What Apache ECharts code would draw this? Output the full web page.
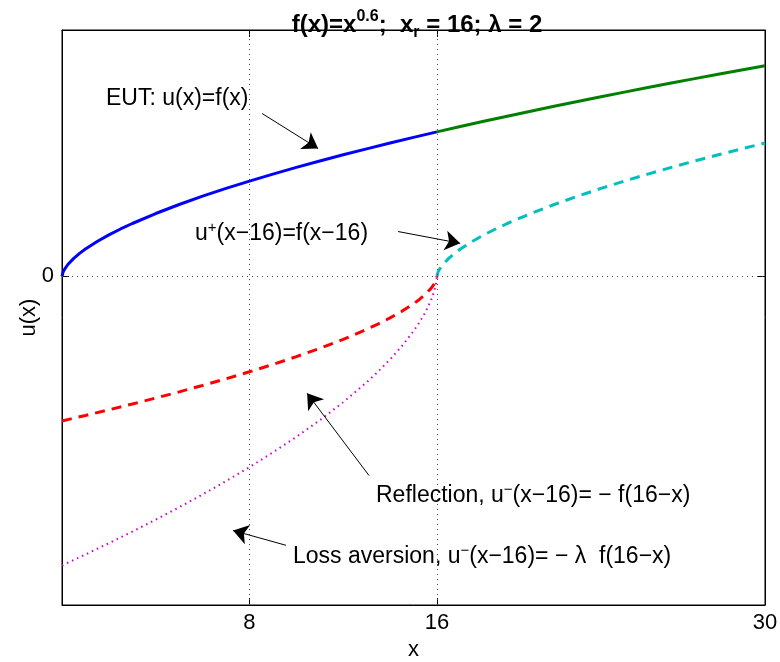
<!DOCTYPE html>
<html>
<head>
<meta charset="utf-8">
<script src="https://cdn.jsdelivr.net/npm/echarts@6/dist/echarts.min.js"></script>
<style>
  html, body { margin: 0; padding: 0; background: #fff; }
  #chart { width: 780px; height: 662px; }
</style>
</head>
<body>
<div id="chart"></div>
<script>
// f(x)=x^0.6, x_r = 16, lambda = 2
const eutLowX = [0, 0.05, 0.1, 0.25, 0.5, 0.75, 1, 1.5, 2, 2.5, 3, 4, 5, 6, 7, 8, 9, 10, 11, 12, 13, 14, 15, 16];
const eutLowY = [0, 0.1657, 0.2512, 0.4353, 0.6598, 0.8415, 1, 1.2754, 1.5157, 1.7329, 1.9332, 2.2974, 2.6265, 2.9302, 3.2141, 3.4822, 3.7372, 3.9811, 4.2154, 4.4413, 4.6598, 4.8714, 5.0775, 5.2780];

const eutHighX = [16, 17, 18, 19, 20, 21, 22, 23, 24, 25, 26, 27, 28, 29, 30];
const eutHighY = [5.2780, 5.4733, 5.6645, 5.8510, 6.0342, 6.2136, 6.3895, 6.5617, 6.7316, 6.8986, 7.0627, 7.2248, 7.3840, 7.5414, 7.6961];

const gainX = [16, 16.05, 16.1, 16.25, 16.5, 16.75, 17, 17.5, 18, 18.5, 19, 20, 21, 22, 23, 24, 25, 26, 27, 28, 29, 30];
const gainY = [0, 0.1657, 0.2512, 0.4353, 0.6598, 0.8415, 1, 1.2754, 1.5157, 1.7329, 1.9332, 2.2974, 2.6265, 2.9302, 3.2141, 3.4822, 3.7372, 3.9811, 4.2154, 4.4413, 4.6598, 4.8714];

const lossX = [0, 1, 2, 3, 4, 5, 6, 7, 8, 9, 10, 11, 12, 13, 13.5, 14, 14.5, 15, 15.25, 15.5, 15.75, 15.9, 15.95, 16];
const reflectionY = [-5.2780, -5.0775, -4.8714, -4.6598, -4.4413, -4.2154, -3.9811, -3.7372, -3.4822, -3.2141, -2.9302, -2.6265, -2.2974, -1.9332, -1.7329, -1.5157, -1.2754, -1, -0.8415, -0.6598, -0.4353, -0.2512, -0.1657, 0];
const lossAversionY = [-10.556, -10.155, -9.7428, -9.3196, -8.8826, -8.4308, -7.9622, -7.4744, -6.9644, -6.4282, -5.8604, -5.2530, -4.5948, -3.8664, -3.4658, -3.0314, -2.5508, -2, -1.6830, -1.3196, -0.8706, -0.5024, -0.3314, 0];

const xTicks = [8, 16, 30];
const yTicks = [0];

// annotation arrows: [from, to] in data coords
const arrows = [
  [[8.54, 5.95], [10.93, 4.67]],
  [[14.34, 1.64], [16.99, 1.21]],
  [[13.10, -7.27], [10.46, -4.27]],
  [[9.56, -9.82], [7.30, -9.28]]
];

const zip = (xs, ys) => xs.map((x, i) => [x, ys[i]]);

const font = 'Liberation Sans, Arial, Helvetica, sans-serif';
const txt = { fontFamily: font, fontSize: 23, lineHeight: 28, verticalAlign: 'middle', fill: '#000' };
const sup = { fontFamily: font, fontSize: 15, lineHeight: 14, verticalAlign: 'top', fill: '#000' };

function label(left, top, text) {
  return {
    type: 'text', left: left, top: top, silent: true,
    style: { text: text, rich: { a: txt, s: sup }, fontFamily: font, fontSize: 23 }
  };
}

const axisText = { fontFamily: font, fontSize: 22, color: '#000' };

const chart = echarts.init(document.getElementById('chart'), null, { renderer: 'canvas' });

chart.setOption({
  animation: false,
  backgroundColor: '#fff',
  title: {
    text: '{a|f(x)=x}{s|0.6}{a|;  x}{b|r}{a| = 16; λ = 2}',
    left: 412, top: 4, textAlign: 'center',
    textStyle: {
      rich: {
        a: { fontFamily: font, fontSize: 24, fontWeight: 'bold', lineHeight: 32, verticalAlign: 'middle', color: '#000' },
        s: { fontFamily: font, fontSize: 16, fontWeight: 'bold', lineHeight: 16, verticalAlign: 'top', color: '#000' },
        b: { fontFamily: font, fontSize: 16, fontWeight: 'bold', lineHeight: 12, verticalAlign: 'bottom', color: '#000' }
      }
    }
  },
  grid: {
    left: 62, right: 15, top: 30, bottom: 57, outerBoundsMode: 'none',
    show: true, borderColor: '#000', borderWidth: 1, backgroundColor: '#fff'
  },
  xAxis: [{
    type: 'value', min: 0, max: 30, position: 'bottom',
    name: 'x', nameLocation: 'middle', nameGap: 34, nameMoveOverlap: false,
    nameTextStyle: axisText,
    axisLine: { show: true, onZero: false, lineStyle: { color: '#000' } },
    axisTick: { show: true, inside: true, length: 7, customValues: xTicks, lineStyle: { color: '#000' } },
    axisLabel: Object.assign({ customValues: xTicks, margin: 7 }, axisText),
    splitLine: { show: false }
  }, {
    type: 'value', min: 0, max: 30, position: 'top',
    axisLine: { show: true, onZero: false, lineStyle: { color: '#000' } },
    axisTick: { show: true, inside: true, length: 7, customValues: xTicks, lineStyle: { color: '#000' } },
    axisLabel: { show: false },
    splitLine: { show: false }
  }],
  yAxis: [{
    type: 'value', min: -12, max: 9, position: 'left',
    name: 'u(x)', nameLocation: 'middle', nameGap: 22, nameMoveOverlap: false,
    nameTextStyle: axisText,
    axisLine: { show: true, onZero: false, lineStyle: { color: '#000' } },
    axisTick: { show: true, inside: true, length: 7, customValues: yTicks, lineStyle: { color: '#000' } },
    axisLabel: Object.assign({ customValues: yTicks, margin: 8 }, axisText),
    splitLine: { show: false }
  }, {
    type: 'value', min: -12, max: 9, position: 'right',
    axisLine: { show: true, onZero: false, lineStyle: { color: '#000' } },
    axisTick: { show: true, inside: true, length: 7, customValues: yTicks, lineStyle: { color: '#000' } },
    axisLabel: { show: false },
    splitLine: { show: false }
  }],
  series: [
    {
      // dotted grid lines
      type: 'line', data: [], silent: true,
      markLine: {
        silent: true, symbol: ['none', 'none'], label: { show: false },
        lineStyle: { color: '#444', width: 1, type: [1, 4] },
        data: xTicks.slice(0, 2).map(v => ({ xAxis: v })).concat(yTicks.map(v => ({ yAxis: v })))
      }
    },
    {
      name: 'EUT low', type: 'line', data: zip(eutLowX, eutLowY), showSymbol: false, smooth: false,
      lineStyle: { color: '#0000ff', width: 3 }
    },
    {
      name: 'EUT high', type: 'line', data: zip(eutHighX, eutHighY), showSymbol: false,
      lineStyle: { color: '#007f00', width: 3 }
    },
    {
      name: 'gain', type: 'line', data: zip(gainX, gainY), showSymbol: false,
      lineStyle: { color: '#00bfbf', width: 3, type: [10, 7] }
    },
    {
      name: 'reflection', type: 'line', data: zip(lossX, reflectionY), showSymbol: false,
      lineStyle: { color: '#ff0000', width: 3, type: [10, 7] }
    },
    {
      name: 'loss aversion', type: 'line', data: zip(lossX, lossAversionY), showSymbol: false,
      lineStyle: { color: '#cc00cc', width: 2, type: [1.5, 4] }
    },
    {
      // annotation arrows
      type: 'line', data: [], silent: true,
      markLine: {
        silent: true, symbol: ['none', 'arrow'], symbolSize: 15, label: { show: false },
        lineStyle: { color: '#000', width: 1, type: 'solid' },
        data: arrows.map(a => [{ coord: a[0] }, { coord: a[1] }])
      }
    }
  ],
  graphic: [
    label(106, 87, '{a|EUT: u(x)=f(x)}'),
    label(195, 220, '{a|u}{s|+}{a|(x−16)=f(x−16)}'),
    label(376, 482, '{a|Reflection, u}{s|−}{a|(x−16)= − f(16−x)}'),
    label(293, 543, '{a|Loss aversion, u}{s|−}{a|(x−16)= − λ  f(16−x)}')
  ]
});
</script>
</body>
</html>
